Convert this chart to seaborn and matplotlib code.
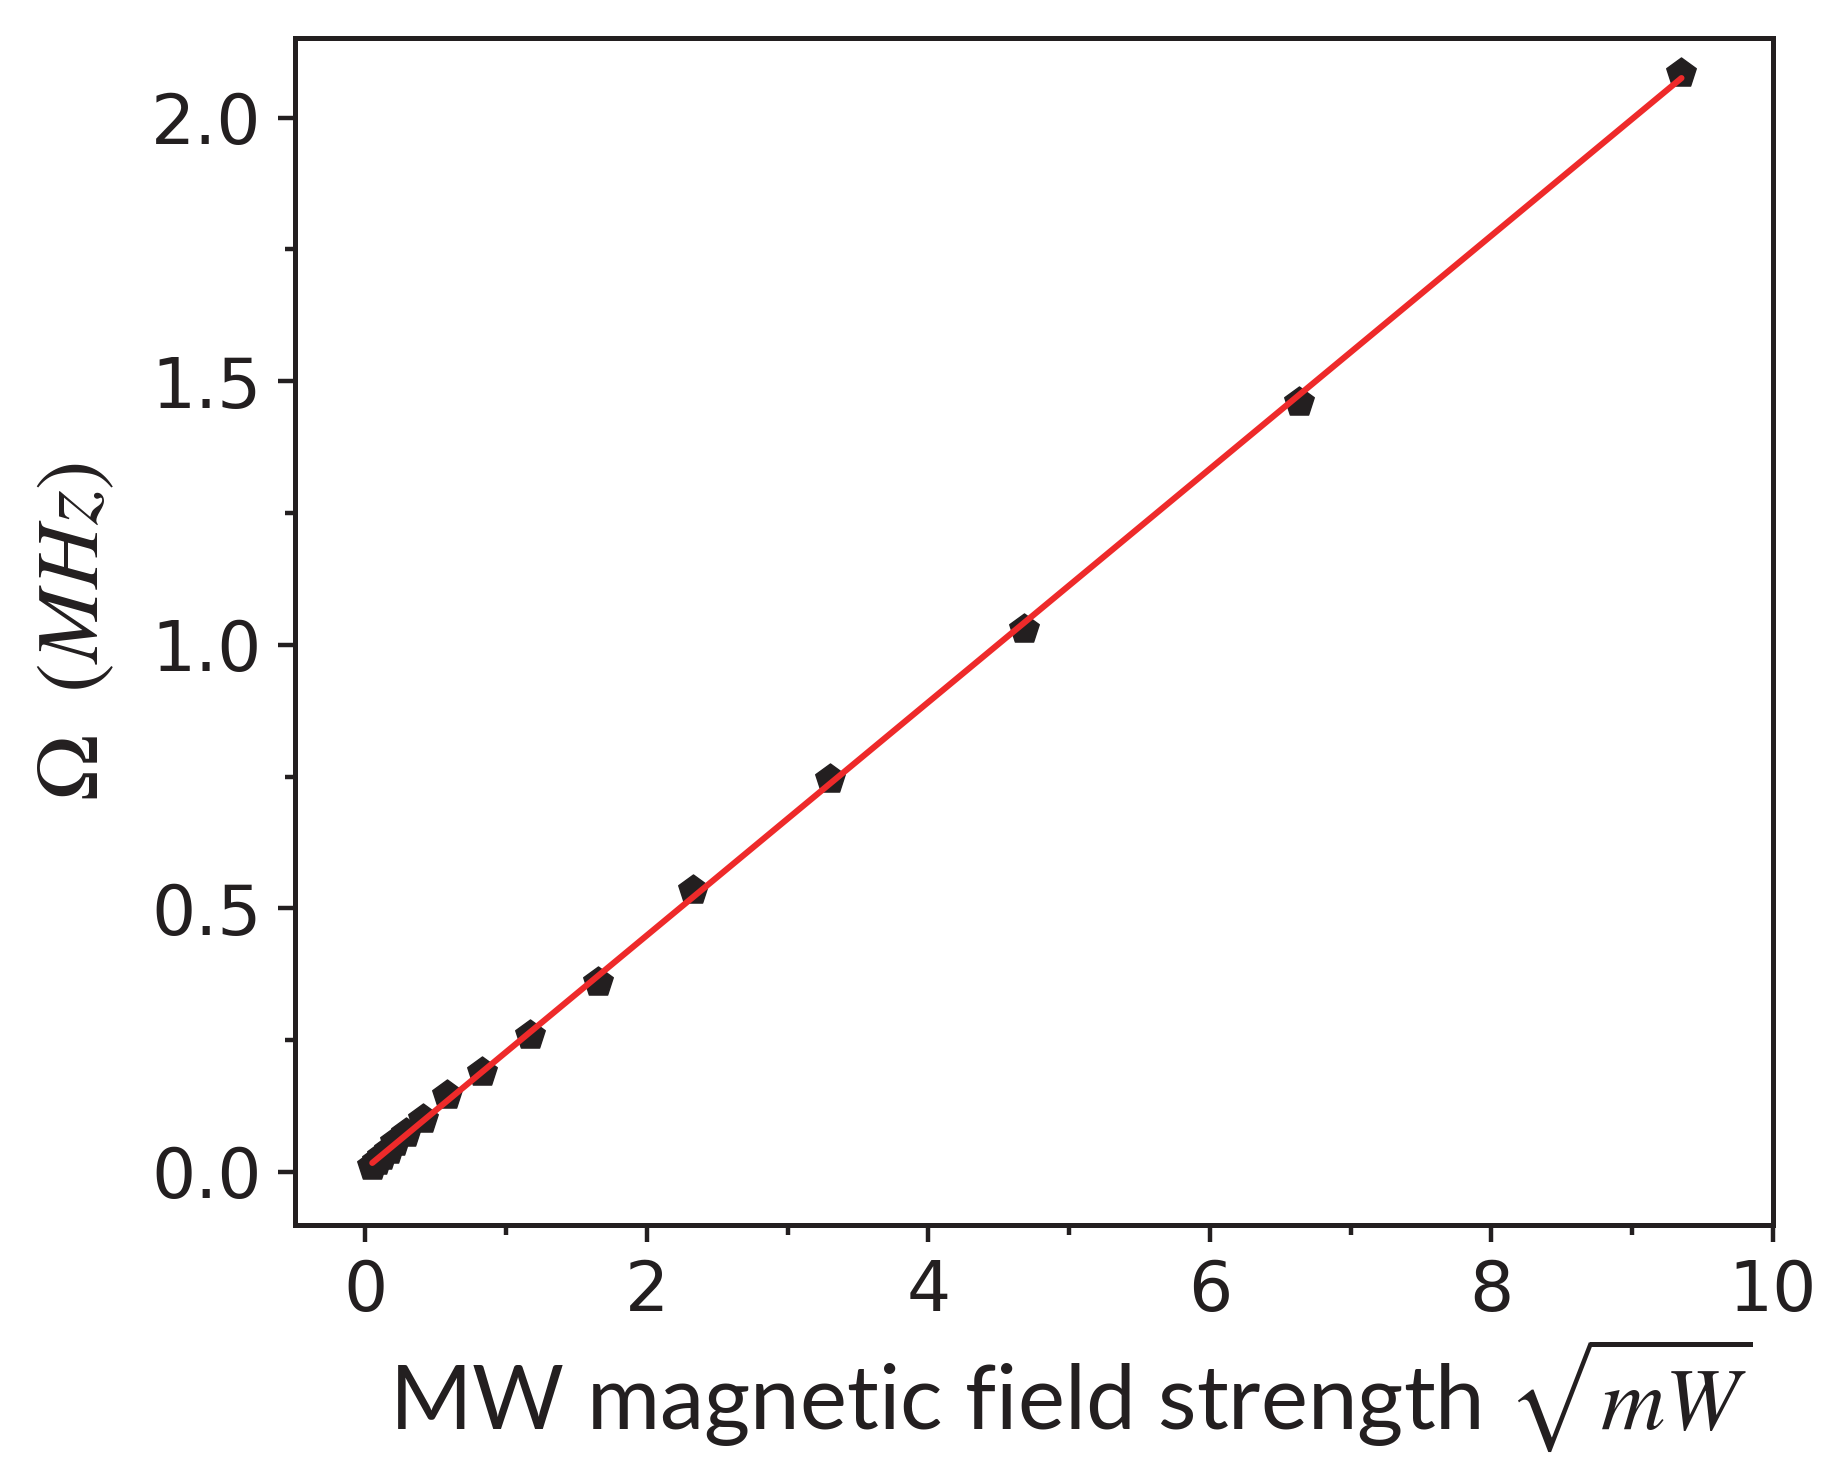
import matplotlib
matplotlib.use("Agg")
import matplotlib.pyplot as plt
from matplotlib.ticker import MultipleLocator
import pandas as pd
import seaborn as sns

# field strength (sqrt mW) and Rabi frequency (MHz)
field = [0.05, 0.08, 0.12, 0.17, 0.21, 0.29, 0.41, 0.58, 0.83, 1.17,
         1.65, 2.33, 3.30, 4.68, 6.63, 9.35]
omega = [0.012, 0.02, 0.03, 0.041, 0.057, 0.073, 0.10, 0.145, 0.19, 0.26,
         0.36, 0.535, 0.745, 1.03, 1.46, 2.085]

df = pd.DataFrame({"field": field, "omega": omega})

sns.set_style("ticks")
plt.rcParams["mathtext.fontset"] = "stix"

fig = plt.figure(figsize=(9.215, 7.395), dpi=200)
ax = fig.add_axes([0.160, 0.172, 0.802, 0.802])

sns.scatterplot(data=df, x="field", y="omega", marker="p", s=125,
                color="#231f20", edgecolor="#231f20", linewidth=0.5, ax=ax, zorder=2)
sns.regplot(data=df, x="field", y="omega", scatter=False, ci=None, truncate=True,
            color="#ee2a2a", line_kws={"linewidth": 2.2, "zorder": 3}, ax=ax)

ax.set_xlim(-0.5, 10)
ax.set_ylim(-0.1, 2.15)
ax.xaxis.set_minor_locator(MultipleLocator(1))
ax.yaxis.set_minor_locator(MultipleLocator(0.25))
ax.tick_params(which="major", length=6, width=1.6, color="#231f20", pad=6)
ax.tick_params(which="minor", length=3.5, width=1.6, color="#231f20")
for s in ax.spines.values():
    s.set_linewidth(1.8)
    s.set_color("#231f20")

tick_font = ["Liberation Sans Narrow", "DejaVu Sans"]
ax.set_yticks([0, 0.5, 1.0, 1.5, 2.0])
ax.set_yticklabels(["0.0", "0.5", "1.0", "1.5", "2.0"], family=tick_font,
                   fontsize=25, color="#231f20")
ax.set_xticks([0, 2, 4, 6, 8, 10])
ax.set_xticklabels(["0", "2", "4", "6", "8", "10"], family=tick_font,
                   fontsize=25, color="#231f20")

ax.set_xlabel(r"MW magnetic field strength $\sqrt{mW}$", family=["Lato", "DejaVu Sans"],
              fontsize=32, color="#231f20", labelpad=4, x=0.986, ha="right")
ax.set_ylabel(r"$\Omega\ \ (MHz)$", fontsize=32, color="#231f20", labelpad=12)

fig.savefig("out.png", dpi=200)
